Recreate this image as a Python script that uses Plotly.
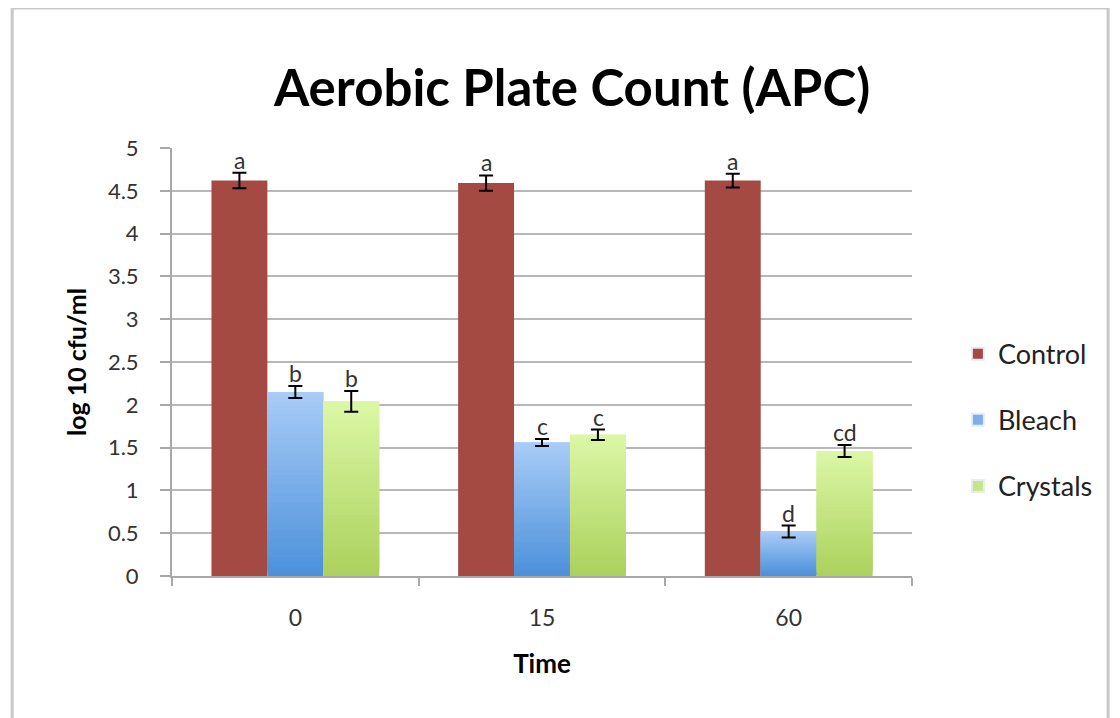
import plotly.graph_objects as go

times = ["0", "15", "60"]
series_names = ["Control", "Bleach", "Crystals"]
control = [4.62, 4.59, 4.62]
control_err = [0.09, 0.09, 0.08]
bleach = [2.15, 1.56, 0.52]
bleach_err = [0.07, 0.04, 0.07]
crystals = [2.04, 1.65, 1.46]
crystals_err = [0.12, 0.06, 0.07]
letters_control = ["a", "a", "a"]
letters_bleach = ["b", "c", "d"]
letters_crystals = ["b", "c", "cd"]

# (top colour, bottom colour) of each series' fill
grad = [("#a44a42", "#a44a42"), ("#a9ccf7", "#4b90da"), ("#dcf7a6", "#abd15c")]
legend_colors = ["#a44a42", "#7db0ea", "#c6e686"]
FONT = "Lato"


def mix(c1, c2, t):
    a = [int(c1[i:i + 2], 16) for i in (1, 3, 5)]
    b = [int(c2[i:i + 2], 16) for i in (1, 3, 5)]
    return "rgb({},{},{})".format(*[round(a[k] + (b[k] - a[k]) * t) for k in range(3)])


fig = go.Figure()
data = [(control, control_err, letters_control),
        (bleach, bleach_err, letters_bleach),
        (crystals, crystals_err, letters_crystals)]

# gradient fill: each bar split into overlapping slices in its own group slot
for name, (vals, errs, _), (ctop, cbot) in zip(series_names, data, grad):
    nseg = 1 if ctop == cbot else 40
    for k in range(nseg):
        frac = (k + 0.5) / nseg
        bases = [v * k / nseg for v in vals]
        heights = [min(v * 3 / nseg, v - b) for v, b in zip(vals, bases)]
        fig.add_trace(go.Bar(
            x=times, y=heights, base=bases,
            offsetgroup=name, showlegend=False, hoverinfo="skip",
            marker=dict(color=mix(cbot, ctop, frac), line=dict(width=0)),
        ))

# transparent bars carrying the error bars
for name, (vals, errs, _) in zip(series_names, data):
    fig.add_trace(go.Bar(
        x=times, y=vals, name=name, offsetgroup=name, showlegend=False,
        marker=dict(color="rgba(0,0,0,0)", line=dict(width=0)),
        error_y=dict(type="data", array=errs, visible=True,
                     color="black", thickness=2, width=7),
    ))
# legend entries
for name, col in zip(series_names, legend_colors):
    fig.add_trace(go.Bar(x=[times[0]], y=[None], name=name, legendgroup=name,
                         offsetgroup=name, marker=dict(color=col)))

shifts = [-56, 0, 56]
for (vals, errs, labs), sh in zip(data, shifts):
    for i, (v, e, lab) in enumerate(zip(vals, errs, labs)):
        fig.add_annotation(x=i, y=v + e, text=lab, showarrow=False,
                           xshift=sh, yanchor="bottom", yshift=-3,
                           font=dict(family=FONT, size=23, color="#333333"))

fig.add_shape(type="rect", xref="paper", yref="paper",
              x0=-0.216, x1=1.265, y0=-0.45, y1=1.327,
              line=dict(color="#c8c8c8", width=3), layer="below")

fig.update_layout(
    width=1120, height=718,
    margin=dict(l=164, r=216, t=140, b=150),
    paper_bgcolor="white", plot_bgcolor="white",
    barmode="group", bargap=0.32, bargroupgap=0,
    title=dict(text="<b>Aerobic Plate Count (APC)</b>", x=0.5036, xanchor="center",
               y=0.8886, yanchor="middle",
               font=dict(family=FONT, size=51, color="black")),
    legend=dict(x=1.062, xanchor="left", y=0.364, yanchor="middle",
                font=dict(family=FONT, size=27, color="#222222"),
                tracegroupgap=28, itemsizing="constant"),
    showlegend=True,
    font=dict(family=FONT),
)
fig.update_yaxes(range=[0, 5], dtick=0.5,
                 showgrid=True, gridcolor="#b8b8b8", gridwidth=2,
                 showline=True, linecolor="#a8a8a8", linewidth=2,
                 ticks="outside", ticklen=10, tickcolor="#a8a8a8", tickwidth=2,
                 ticklabelstandoff=17, zeroline=False,
                 tickfont=dict(family=FONT, size=22, color="#333333"),
                 title=dict(text="<b>log 10 cfu/ml</b>", standoff=14,
                            font=dict(family=FONT, size=25, color="black")))
fig.update_xaxes(type="category", range=[-0.5, 2.5],
                 showline=True, linecolor="#a8a8a8", linewidth=2,
                 ticks="outside", tickson="boundaries", ticklen=8,
                 tickcolor="#a8a8a8", tickwidth=2, ticklabelstandoff=20,
                 tickfont=dict(family=FONT, size=23, color="#333333"),
                 title=dict(text="<b>Time</b>", standoff=25,
                            font=dict(family=FONT, size=26, color="black")))

fig.write_html("out.html")
